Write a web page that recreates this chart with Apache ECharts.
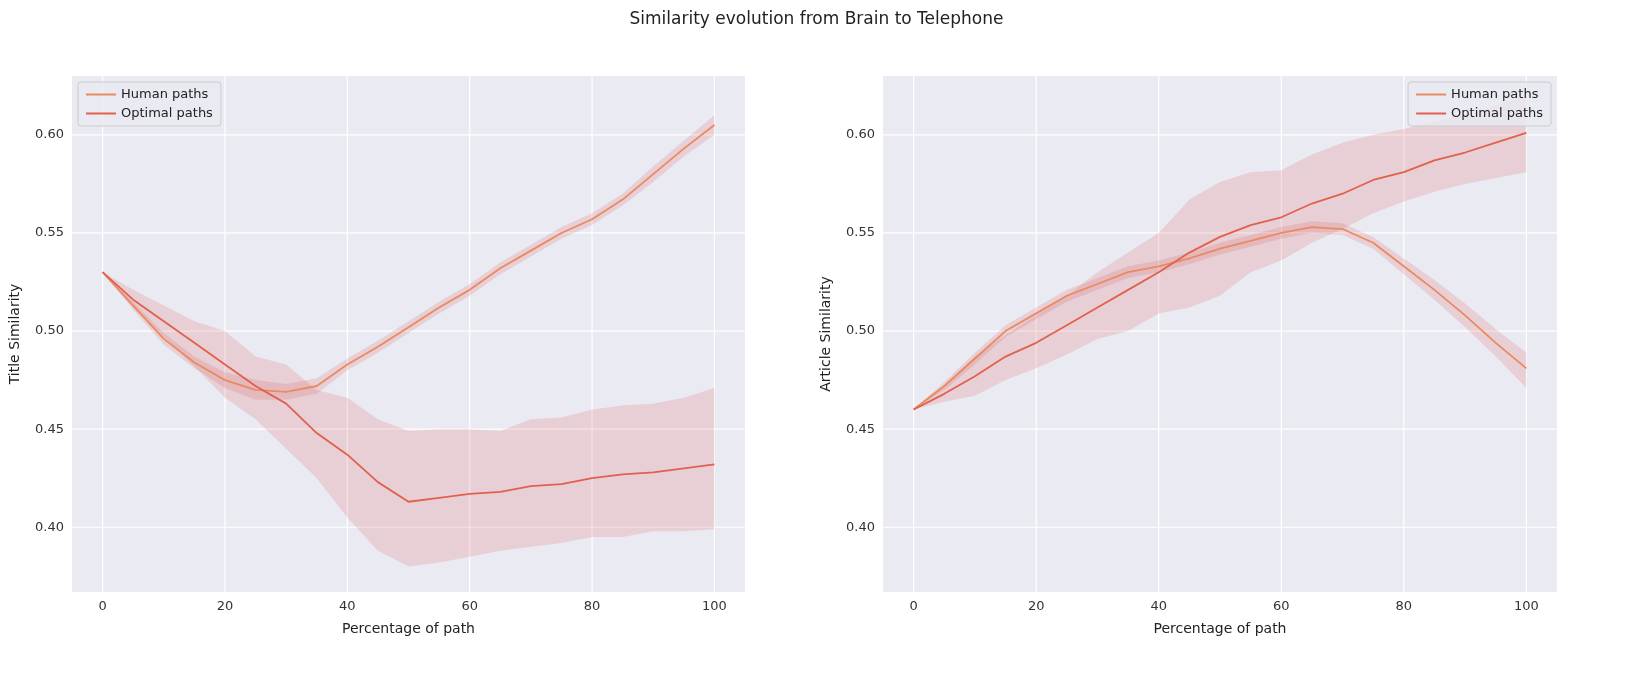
<!DOCTYPE html>
<html><head><meta charset="utf-8">
<script src="https://cdn.jsdelivr.net/npm/echarts@6/dist/echarts.min.js"></script>
<style>html,body{margin:0;background:#fff}#c{width:1633px;height:676px}</style>
</head><body><div id="c"></div>
<script>
const xs=[0,5,10,15,20,25,30,35,40,45,50,55,60,65,70,75,80,85,90,95,100];
const titleHuman=[0.530,0.513,0.496,0.484,0.475,0.470,0.469,0.472,0.483,0.492,0.502,0.512,0.521,0.532,0.541,0.550,0.557,0.567,0.580,0.593,0.605];
const titleHumanLo=[0.530,0.511,0.493,0.481,0.471,0.465,0.465,0.468,0.480,0.489,0.499,0.509,0.518,0.529,0.538,0.547,0.554,0.564,0.576,0.589,0.600];
const titleHumanHi=[0.530,0.515,0.499,0.487,0.479,0.475,0.473,0.476,0.486,0.495,0.505,0.515,0.524,0.535,0.544,0.553,0.560,0.570,0.584,0.597,0.610];
const titleOpt=[0.530,0.516,0.505,0.494,0.483,0.472,0.463,0.448,0.437,0.423,0.413,0.415,0.417,0.418,0.421,0.422,0.425,0.427,0.428,0.430,0.432];
const titleOptLo=[0.530,0.512,0.497,0.482,0.466,0.455,0.440,0.425,0.405,0.388,0.380,0.382,0.385,0.388,0.390,0.392,0.395,0.395,0.398,0.398,0.399];
const titleOptHi=[0.530,0.521,0.513,0.505,0.500,0.487,0.483,0.470,0.466,0.455,0.449,0.450,0.450,0.449,0.455,0.456,0.460,0.462,0.463,0.466,0.471];
const artHuman=[0.460,0.472,0.486,0.500,0.509,0.518,0.524,0.530,0.533,0.537,0.542,0.546,0.550,0.553,0.552,0.545,0.533,0.521,0.508,0.494,0.481];
const artHumanLo=[0.460,0.470,0.483,0.497,0.506,0.515,0.521,0.527,0.530,0.534,0.539,0.543,0.547,0.550,0.549,0.542,0.529,0.516,0.502,0.487,0.471];
const artHumanHi=[0.460,0.474,0.489,0.503,0.512,0.521,0.527,0.533,0.536,0.540,0.545,0.549,0.553,0.556,0.555,0.548,0.537,0.526,0.514,0.501,0.489];
const artOpt=[0.460,0.468,0.477,0.487,0.494,0.503,0.512,0.521,0.530,0.540,0.548,0.554,0.558,0.565,0.570,0.577,0.581,0.587,0.591,0.596,0.601];
const artOptLo=[0.460,0.464,0.467,0.475,0.481,0.488,0.496,0.500,0.509,0.512,0.518,0.530,0.536,0.545,0.552,0.560,0.566,0.571,0.575,0.578,0.581];
const artOptHi=[0.460,0.472,0.487,0.498,0.508,0.518,0.530,0.540,0.550,0.567,0.576,0.581,0.582,0.590,0.596,0.600,0.603,0.607,0.610,0.615,0.620];
const yTicks=[0.40,0.45,0.50,0.55,0.60];

const cHuman='#ea8a61', cOpt='#e2604c', band='rgba(222,100,100,0.2)';
const pairs=a=>xs.map((x,i)=>[x,a[i]]);
function bandSeries(lo,hi,idx){
  return {type:'custom',xAxisIndex:idx,yAxisIndex:idx,data:[[0,lo[0]]],silent:true,z:1,clip:true,
    renderItem:(params,api)=>{
      const pts=xs.map((x,i)=>api.coord([x,hi[i]])).concat(xs.slice().reverse().map((x,j)=>api.coord([x,lo[xs.length-1-j]])));
      return {type:'polygon',shape:{points:pts},style:{fill:band}};
    }};
}
function line(name,d,c,idx){return {name,type:'line',xAxisIndex:idx,yAxisIndex:idx,data:pairs(d),symbol:'none',lineStyle:{color:c,width:1.8},itemStyle:{color:c},z:3};}
const axText={color:'#333',fontSize:13,fontFamily:'DejaVu Sans'};
function xAx(i){return {type:'value',gridIndex:i,min:-5,max:105,axisLabel:{...axText,customValues:[0,20,40,60,80,100]},axisTick:{show:false},axisLine:{show:false},splitLine:{show:false},name:'Percentage of path',nameLocation:'middle',nameGap:30,nameTextStyle:{color:'#222',fontSize:14,fontFamily:'DejaVu Sans'}};}
function yAx(i,n){return {type:'value',gridIndex:i,min:0.367,max:0.630,axisLabel:{...axText,customValues:yTicks,formatter:v=>v.toFixed(2)},axisTick:{show:false},axisLine:{show:false},splitLine:{show:false},name:n,nameLocation:'middle',nameGap:50,nameTextStyle:{color:'#222',fontSize:14,fontFamily:'DejaVu Sans'}};}
function gridLines(idx){
  const s=[];
  [0,20,40,60,80,100].forEach(x=>s.push({type:'line',xAxisIndex:idx,yAxisIndex:idx,data:[[x,0.367],[x,0.630]],symbol:'none',lineStyle:{color:'#fff',width:1.2},silent:true,z:0}));
  yTicks.forEach(y=>s.push({type:'line',xAxisIndex:idx,yAxisIndex:idx,data:[[-5,y],[105,y]],symbol:'none',lineStyle:{color:'#fff',width:1.2},silent:true,z:0}));
  return s;
}
const legendBase={orient:'vertical',itemWidth:30,itemHeight:2,icon:'rect',backgroundColor:'rgba(234,234,242,0.8)',borderColor:'#ccc',borderWidth:1,borderRadius:3,padding:[6,8],itemGap:6,textStyle:{color:'#222',fontSize:13,fontFamily:'DejaVu Sans'}};
const opt={
  animation:false,backgroundColor:'#fff',
  title:{text:'Similarity evolution from Brain to Telephone',left:'center',top:6,textStyle:{fontSize:17,fontWeight:'normal',color:'#222',fontFamily:'DejaVu Sans'}},
  grid:[{left:72,top:76,width:673,height:516,show:true,backgroundColor:'#eaeaf2',borderWidth:0},
        {left:883,top:76,width:674,height:516,show:true,backgroundColor:'#eaeaf2',borderWidth:0}],
  legend:[{...legendBase,left:78,top:82,data:['Human paths','Optimal paths']},
          {...legendBase,right:82,top:82,data:['Human paths','Optimal paths']}],
  xAxis:[xAx(0),xAx(1)],
  yAxis:[yAx(0,'Title Similarity'),yAx(1,'Article Similarity')],
  series:[...gridLines(0),...gridLines(1),
    bandSeries(titleHumanLo,titleHumanHi,0),bandSeries(titleOptLo,titleOptHi,0),
    bandSeries(artHumanLo,artHumanHi,1),bandSeries(artOptLo,artOptHi,1),
    line('Human paths',titleHuman,cHuman,0),line('Optimal paths',titleOpt,cOpt,0),
    line('Human paths',artHuman,cHuman,1),line('Optimal paths',artOpt,cOpt,1)]
};
echarts.init(document.getElementById('c')).setOption(opt);
</script></body></html>
